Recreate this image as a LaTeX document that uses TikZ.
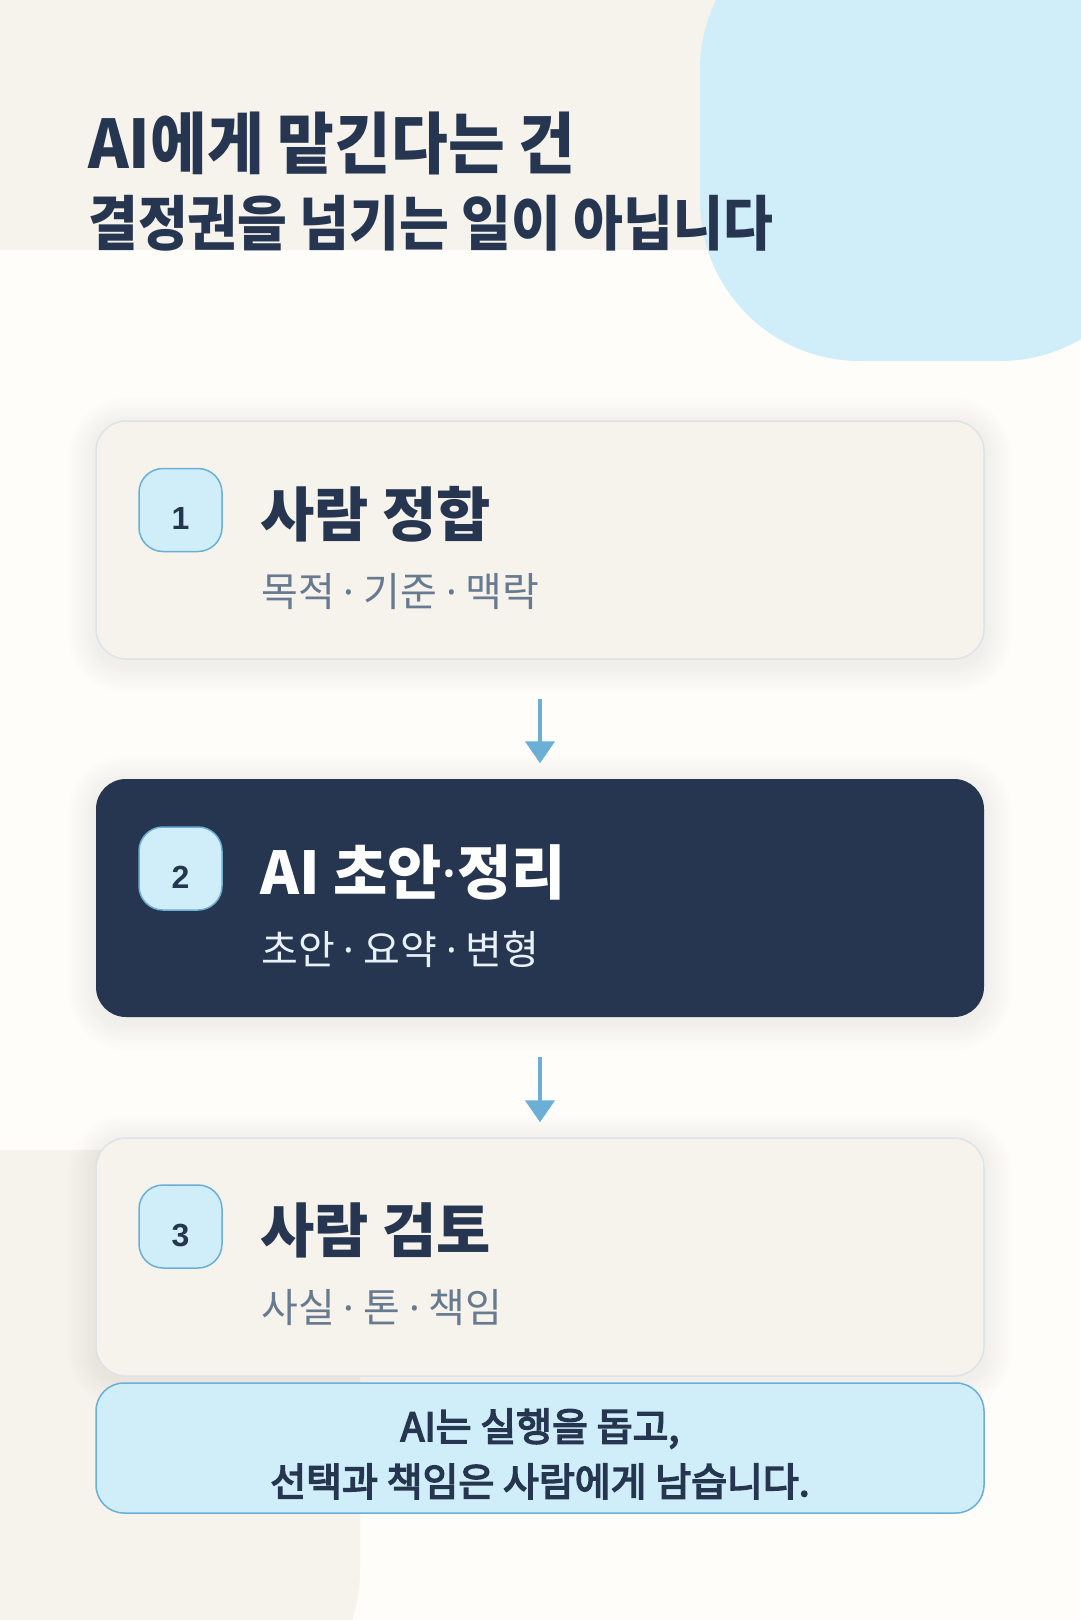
\documentclass[tikz,border=0pt]{standalone}
\usepackage{fontspec}
\setmainfont{Noto Sans CJK KR}
\newfontfamily\krh[FakeStretch=0.92]{Noto Sans CJK KR}
\newfontfamily\krhb[FakeStretch=0.91]{Noto Sans CJK KR}
\newfontfamily\kr{Noto Sans CJK KR}
\newfontfamily\krmed[FakeBold=4]{Noto Sans CJK KR}
\newfontfamily\lat{Noto Sans}
\newfontfamily\numfont{Liberation Sans}
\newcommand\kdot{{\lat ·}}
\usetikzlibrary{arrows.meta}
\pgfdeclarelayer{bglayer}
\pgfdeclarelayer{shadowlayer}
\pgfsetlayers{bglayer,shadowlayer,main}
\definecolor{bgc}{HTML}{FEFDFA}
\definecolor{beige}{HTML}{F6F2EC}
\definecolor{lblue}{HTML}{CFEEF9}
\definecolor{navy}{HTML}{263650}
\definecolor{accent}{HTML}{6BAED6}
\definecolor{cardline}{HTML}{DDE3E8}
\definecolor{subgray}{HTML}{687A90}
\definecolor{subwhite}{HTML}{E8F0F8}
\definecolor{shadowc}{HTML}{5A6470}
\tikzset{
  card/.style={draw=cardline, line width=1.5pt, fill=beige, rounded corners=30pt,
    minimum width=888pt, minimum height=238pt, inner sep=0pt},
  darkcard/.style={card, draw=none, fill=navy},
  badge/.style={draw=accent, line width=1.5pt, fill=lblue, rounded corners=24pt,
    minimum width=83pt, minimum height=83pt, inner sep=0pt},
  bnum/.style={anchor=base, inner sep=0pt, text=navy, font=\numfont\bfseries\fontsize{32}{32}\selectfont},
  ctitle/.style={anchor=base west, inner sep=0pt, text=navy, font=\kr\bfseries\fontsize{59}{59}\selectfont},
  csub/.style={anchor=base west, inner sep=0pt, text=subgray, font=\kr\fontsize{40}{40}\selectfont},
  arr/.style={draw=accent, line width=4.5pt, -{Triangle[width=29pt,length=22pt]}},
  htitle/.style={anchor=base west, inner sep=0pt, text=navy},
  ntext/.style={anchor=base, inner sep=0pt, text=navy, font=\krmed\fontsize{39}{39}\selectfont}
}
\newcommand\softshadow[1]{%
  \begin{pgfonlayer}{shadowlayer}
  \foreach \e in {2,4,...,28}{
    \fill[shadowc, opacity=0.0045, rounded corners=30pt+\e pt]
      ([xshift=-\e pt, yshift=\e pt-5pt]#1.north west) rectangle ([xshift=\e pt, yshift=-\e pt-5pt]#1.south east);
  }
  \end{pgfonlayer}}
\begin{document}
\begin{tikzpicture}[x=1pt,y=-1pt]
\useasboundingbox (0,0) rectangle (1080,1620);
\begin{pgfonlayer}{bglayer}
\fill[bgc] (0,0) rectangle (1080,1620);
\fill[beige] (0,0) rectangle (720,250);
\fill[lblue, rounded corners=160pt] (700,-90) rectangle (1160,361);
\begin{scope}
\clip (0,0) rectangle (1080,1620);
\fill[beige, rounded corners=160pt] (-200,1150) rectangle (360,1730);
\end{scope}
\end{pgfonlayer}
% header
\node[htitle, font=\krh\bfseries\fontsize{67}{67}\selectfont] (h1) at (88,168.5) {AI에게 맡긴다는 건};
\node[htitle, font=\krhb\bfseries\fontsize{59.5}{59.5}\selectfont] (h2) at (88,245) {결정권을 넘기는 일이 아닙니다};
% cards
\node[card] (c1) at (540,540) {};
\node[darkcard] (c2) at (540,898) {};
\node[card] (c3) at (540,1257) {};
\softshadow{c1}
\softshadow{c2}
\softshadow{c3}
% badges
\node[badge] (b1) at (180.5,510) {};
\node[badge] (b2) at (180.5,868.5) {};
\node[badge] (b3) at (180.5,1226.5) {};
\node[bnum] (n1) at (180.5,529.5) {1};
\node[bnum] (n2) at (180.5,888) {2};
\node[bnum] (n3) at (180.5,1246) {3};
% titles
\node[ctitle] (t1) at (260,536) {사람 정합};
\node[csub] (s1) at (261,606) {목적 \kdot{} 기준 \kdot{} 맥락};
\node[ctitle, text=white] (t2) at (260,894) {AI 초안\kdot 정리};
\node[csub, text=subwhite] (s2) at (261,964) {초안 \kdot{} 요약 \kdot{} 변형};
\node[ctitle] (t3) at (260,1252) {사람 검토};
\node[csub] (s3) at (261,1322) {사실 \kdot{} 톤 \kdot{} 책임};
% arrows
\draw[arr, shorten <=39pt, shorten >=15pt] (c1.south) -- (c2.north);
\draw[arr, shorten <=39pt, shorten >=15pt] (c2.south) -- (c3.north);
% callout
\node[draw=accent, line width=1.5pt, fill=lblue, rounded corners=28pt,
  minimum width=888pt, minimum height=130pt, inner sep=0pt] (note) at (540,1448) {};
\node[ntext] (l1) at (540,1441) {AI는 실행을 돕고,};
\node[ntext] (l2) at (540,1496) {선택과 책임은 사람에게 남습니다.};
\end{tikzpicture}
\end{document}
